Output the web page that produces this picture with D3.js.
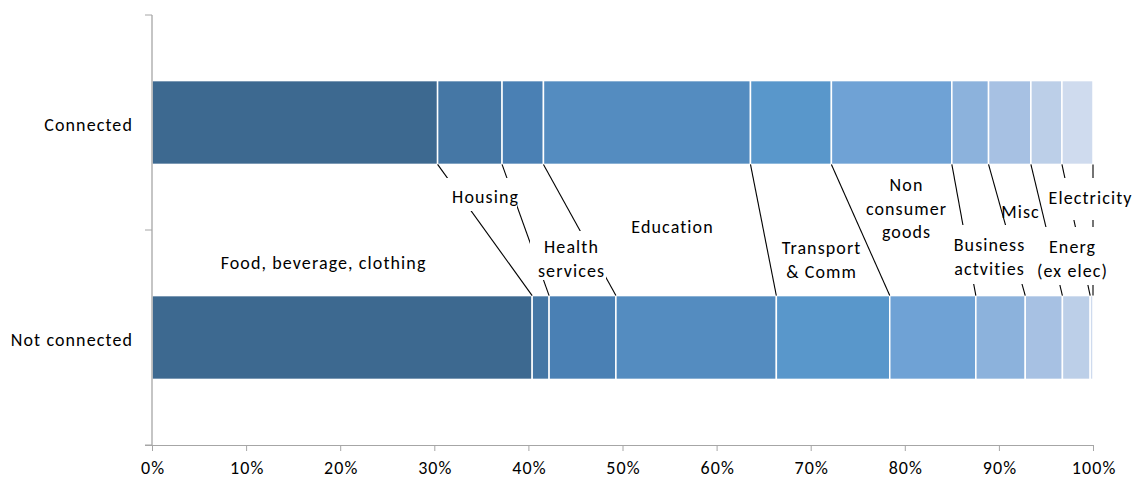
<!DOCTYPE html>
<html>
<head>
<meta charset="utf-8">
<script src="https://cdn.jsdelivr.net/npm/d3@7"></script>
<style>
  html, body { margin: 0; padding: 0; background: #fff; }
  svg { display: block; font-family: Carlito, Calibri, Lato, "Noto Sans", sans-serif; }
</style>
</head>
<body>
<svg id="chart" width="1132" height="479"></svg>
<script>
// Household spending composition, connected vs not connected (shares in %)
const categories = ["Connected", "Not connected"];
const components = [
  "Food, beverage, clothing", "Housing", "Health services", "Education",
  "Transport & Comm", "Non consumer goods", "Business actvities", "Misc",
  "Energ (ex elec)", "Electricity"
];
const connectedShares    = [30.35, 6.85, 4.4, 22.0, 8.6, 12.8, 3.9, 4.5, 3.3, 3.3];
const notConnectedShares = [40.4, 1.8, 7.1, 17.05, 12.05, 9.15, 5.25, 3.95, 2.95, 0.3];
const tickValues = [0, 10, 20, 30, 40, 50, 60, 70, 80, 90, 100];
const tickLabels = ["0%", "10%", "20%", "30%", "40%", "50%", "60%", "70%", "80%", "90%", "100%"];
const labelLines = [
  ["Food, beverage, clothing"], ["Housing"], ["Health", "services"], ["Education"],
  ["Transport", "& Comm"], ["Non", "consumer", "goods"], ["Business", "actvities"],
  ["Misc"], ["Energ", "(ex elec)"], ["Electricity"]
];

// Segment colours, dark to light blue
const colors = ["#3d6990", "#4577a5", "#4a80b4", "#548cc0", "#5997cb",
                "#6fa2d5", "#8cb2dc", "#a7c1e3", "#bccfe8", "#cfdbee"];

// Annotation placement: centre of first text line, and optional white backing box
const labelLayout = [
  { cx: 323,  cy: 263, box: null },
  { cx: 485,  cy: 197, box: [446, 178, 517, 211] },
  { cx: 571,  cy: 247, box: [530, 231, 606, 280] },
  { cx: 672,  cy: 227, box: null },
  { cx: 821,  cy: 248, box: null },
  { cx: 906,  cy: 185, box: null },
  { cx: 989,  cy: 245, box: [950, 225, 1026, 284] },
  { cx: 1020, cy: 212, box: null },
  { cx: 1072, cy: 247, box: [1036, 227, 1106, 285] },
  { cx: 1090, cy: 198, box: [1048, 178, 1132, 220] }
];
const lineGap = 23.5;
const fontSize = 18;
const spacing = 1.1;

const svg = d3.select("#chart");

const rows = categories.map((c, ci) => {
  const src = ci === 0 ? connectedShares : notConnectedShares;
  const r = { category: c };
  components.forEach((k, i) => r[k] = src[i]);
  return r;
});

const series = d3.stack().keys(components)(rows);

const x = d3.scaleLinear().domain([0, 100]).range([152, 1093]);
const y = d3.scaleBand().domain(categories).range([15, 445])
  .paddingInner(0.61).paddingOuter(0.305);

// Bars
svg.append("g").selectAll("g")
  .data(series)
  .join("g")
  .attr("fill", (d, i) => colors[i])
  .selectAll("rect")
  .data(d => d)
  .join("rect")
  .attr("x", d => x(d[0]))
  .attr("y", d => y(d.data.category))
  .attr("width", d => Math.max(0, x(d[1]) - x(d[0])))
  .attr("height", y.bandwidth())
  .attr("stroke", "#fff")
  .attr("stroke-width", 1.5);

// Series lines joining the right edge of each segment across the two bars
const topBottom = y(categories[0]) + y.bandwidth();
const bottomTop = y(categories[1]);
svg.append("g").selectAll("line")
  .data(series)
  .join("line")
  .attr("x1", d => x(d[0][1]))
  .attr("y1", topBottom)
  .attr("x2", d => x(d[1][1]))
  .attr("y2", bottomTop)
  .attr("stroke", "#000")
  .attr("stroke-width", 1.1);

// Label backing boxes and texts
const labels = svg.append("g");
labelLayout.forEach(L => {
  if (L.box) {
    labels.append("rect")
      .attr("x", L.box[0]).attr("y", L.box[1])
      .attr("width", L.box[2] - L.box[0]).attr("height", L.box[3] - L.box[1])
      .attr("fill", "#fff");
  }
});
labelLayout.forEach((L, i) => {
  const t = labels.append("text")
    .attr("text-anchor", "middle")
    .attr("font-size", fontSize)
    .attr("letter-spacing", spacing)
    .attr("fill", "#000");
  labelLines[i].forEach((s, j) => {
    t.append("tspan")
      .attr("x", L.cx + spacing / 2)
      .attr("y", L.cy + j * lineGap)
      .attr("dy", "0.35em")
      .text(s);
  });
});

// Axes
const axisColor = "#a6a6a6";
const xAxis = d3.axisBottom(x)
  .tickValues(tickValues)
  .tickFormat((d, i) => tickLabels[i])
  .tickSize(6)
  .tickPadding(10)
  .tickSizeOuter(0);
const gx = svg.append("g").attr("transform", "translate(0,445)").call(xAxis);
gx.select(".domain").attr("stroke", axisColor).attr("d", "M145,0.5H1093");
gx.selectAll(".tick line").attr("stroke", axisColor);
gx.selectAll(".tick text")
  .attr("font-size", fontSize)
  .attr("letter-spacing", spacing)
  .attr("dx", spacing / 2)
  .attr("fill", "#000")
  .attr("font-family", "Carlito, Calibri, Lato, 'Noto Sans', sans-serif");

// Category axis: ticks on band boundaries, labels at band centres
const gy = svg.append("g");
const [r0, r1] = y.range();
gy.append("line").attr("x1", 152).attr("x2", 152).attr("y1", r0).attr("y2", r1)
  .attr("stroke", axisColor).attr("stroke-width", 1.3);
const bounds = [r0, r0 + y.step(), r1];
gy.selectAll("line.tk").data(bounds).join("line").attr("class", "tk")
  .attr("x1", 145).attr("x2", 152).attr("y1", d => d).attr("y2", d => d)
  .attr("stroke", axisColor);
gy.selectAll("text").data(categories).join("text")
  .attr("x", 133)
  .attr("y", d => y(d) + y.bandwidth() / 2 + 2)
  .attr("dy", "0.35em")
  .attr("text-anchor", "end")
  .attr("font-size", fontSize)
  .attr("letter-spacing", spacing)
  .attr("fill", "#000")
  .text(d => d);
</script>
</body>
</html>
